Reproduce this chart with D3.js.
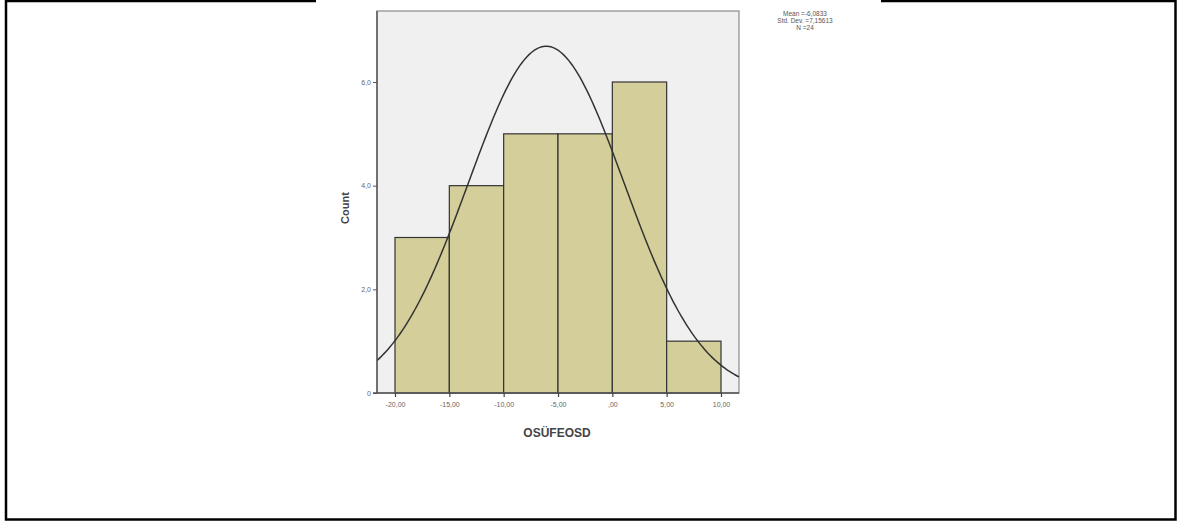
<!DOCTYPE html>
<html>
<head>
<meta charset="utf-8">
<script src="https://cdn.jsdelivr.net/npm/d3@7"></script>
<style>
  body { margin: 0; background: #fff; }
  text { font-family: "Liberation Sans", Arial, sans-serif; }
</style>
</head>
<body>
<div id="chart"></div>
<script>
// Histogram bins (lower edges), bin width and counts
var binStarts = [-20, -15, -10, -5, 0, 5];
var binWidth = 5;
var counts = [3, 4, 5, 5, 6, 1];

// Axis ticks and labels (Turkish locale, comma decimals)
var xTicks = [-20, -15, -10, -5, 0, 5, 10];
var xTickLabels = ["-20,00", "-15,00", "-10,00", "-5,00", ",00", "5,00", "10,00"];
var yTicks = [0, 2, 4, 6];
var yTickLabels = ["0", "2,0", "4,0", "6,0"];

// Summary statistics shown in the corner
var mean = -6.0833;
var stdDev = 7.15613;
var nCount = 24;
var statLines = ["Mean =-6,0833", "Std. Dev. =7,15613", "N =24"];

var main = function () {
    "use strict";

    var svg = d3.select("#chart").append("svg")
        .attr("width", 1177)
        .attr("height", 523);

    // Outer page frame (top edge is broken where the chart image sits)
    svg.append("path")
        .attr("fill", "none")
        .attr("stroke", "#000")
        .attr("stroke-width", 2.5)
        .attr("d", "M316,1 L6,1 L6,519.5 L1175.5,519.5 L1175.5,1 L881,1");

    // Plot area
    var plot = {left: 377, right: 739, top: 11, bottom: 393};

    var x = d3.scaleLinear().domain([-20, 10]).range([395, 721]);
    var y = d3.scaleLinear().domain([0, 6]).range([393, 82]);

    svg.append("rect")
        .attr("x", plot.left)
        .attr("y", plot.top)
        .attr("width", plot.right - plot.left)
        .attr("height", plot.bottom - plot.top)
        .attr("fill", "#f0f0f0")
        .attr("stroke", "#8a8a8a")
        .attr("stroke-width", 1.2);

    // Bars
    svg.append("g")
        .selectAll("rect")
        .data(binStarts)
        .enter()
        .append("rect")
        .attr("x", function(d) { return x(d); })
        .attr("y", function(d, i) { return y(counts[i]); })
        .attr("width", function(d) { return x(d + binWidth) - x(d); })
        .attr("height", function(d, i) { return y(0) - y(counts[i]); })
        .attr("fill", "#d4cf9a")
        .attr("stroke", "#333")
        .attr("stroke-width", 1.2);

    // Normal curve across the plot area
    var xMin = x.invert(plot.left), xMax = x.invert(plot.right);
    var curveData = d3.range(0, 201).map(function(i) {
        var v = xMin + (xMax - xMin) * i / 200;
        var z = (v - mean) / stdDev;
        var dens = nCount * binWidth / (stdDev * Math.sqrt(2 * Math.PI)) * Math.exp(-0.5 * z * z);
        return {x: v, y: dens};
    });
    var line = d3.line()
        .x(function(d) { return x(d.x); })
        .y(function(d) { return y(d.y); });
    svg.append("path")
        .datum(curveData)
        .attr("fill", "none")
        .attr("stroke", "#333")
        .attr("stroke-width", 1.5)
        .attr("d", line);

    // Y axis
    var yAxis = d3.axisLeft(y)
        .tickValues(yTicks)
        .tickSize(4)
        .tickPadding(2)
        .tickFormat(function(d, i) { return yTickLabels[i]; });
    var gy = svg.append("g")
        .attr("transform", "translate(" + plot.left + ",0)")
        .call(yAxis);
    gy.select(".domain").attr("d", "M0," + plot.top + "V" + plot.bottom)
        .attr("stroke", "#555").attr("stroke-width", 1.4);
    gy.selectAll(".tick line").attr("stroke", "#555");
    gy.selectAll("text").attr("font-size", 7).attr("fill", "#666")
        .attr("font-family", "Liberation Sans, Arial, sans-serif");

    // X axis
    var xAxis = d3.axisBottom(x)
        .tickValues(xTicks)
        .tickSize(4)
        .tickPadding(5)
        .tickFormat(function(d, i) { return xTickLabels[i]; });
    var gx = svg.append("g")
        .attr("transform", "translate(0," + plot.bottom + ")")
        .call(xAxis);
    gx.select(".domain").attr("d", "M" + (plot.left - 4) + ",0H" + plot.right)
        .attr("stroke", "#555").attr("stroke-width", 1.4);
    gx.selectAll(".tick line").attr("stroke", "#444").attr("stroke-width", 1.2);
    gx.selectAll("text").attr("font-size", 7).attr("fill", "#666")
        .attr("font-family", "Liberation Sans, Arial, sans-serif");

    // Axis titles
    svg.append("text")
        .attr("x", 557)
        .attr("y", 437)
        .attr("text-anchor", "middle")
        .attr("font-size", 12)
        .attr("font-weight", "bold")
        .attr("fill", "#444")
        .text("OSÜFEOSD");
    svg.append("text")
        .attr("transform", "translate(349,208) rotate(-90)")
        .attr("text-anchor", "middle")
        .attr("font-size", 11)
        .attr("font-weight", "bold")
        .attr("fill", "#444")
        .text("Count");

    // Stats box
    svg.append("g")
        .selectAll("text")
        .data(statLines)
        .enter()
        .append("text")
        .attr("x", 805)
        .attr("y", function(d, i) { return 16 + i * 7; })
        .attr("text-anchor", "middle")
        .attr("font-size", 6.5)
        .attr("fill", "#555")
        .text(function(d) { return d; });
};

main();
</script>
</body>
</html>
